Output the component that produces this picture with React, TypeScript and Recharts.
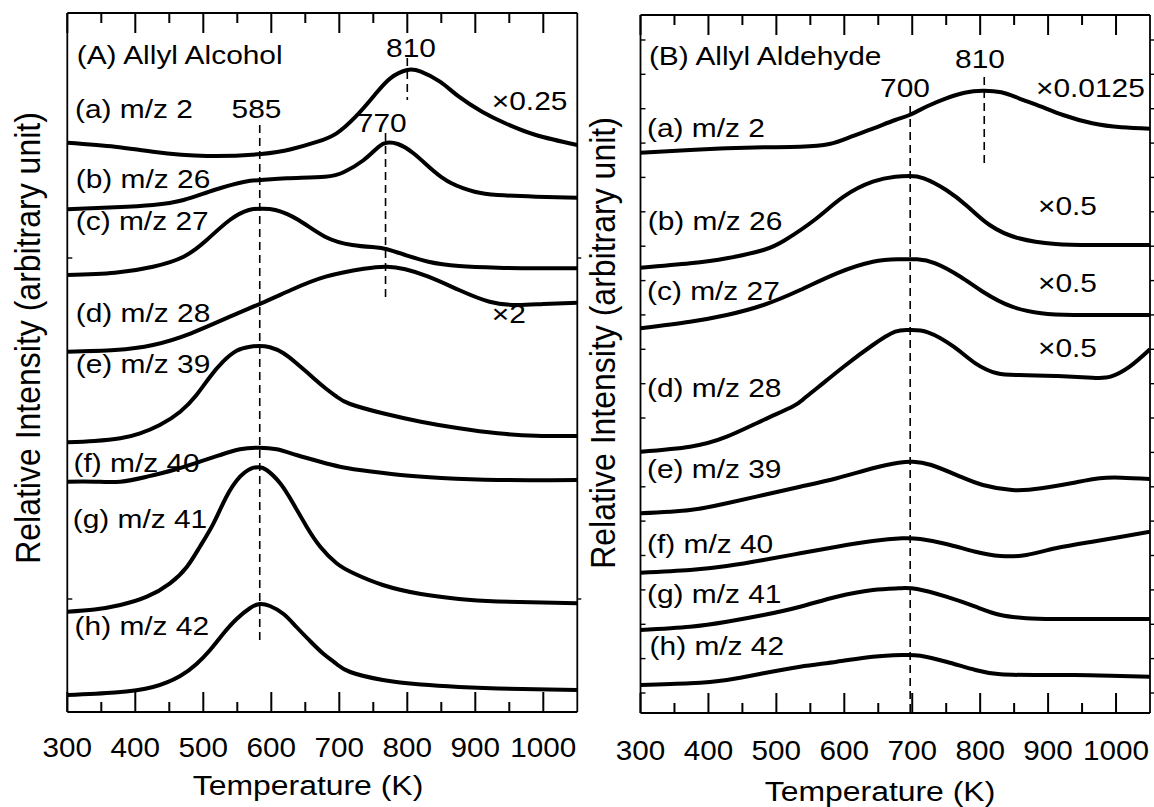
import React from 'react';
import { LineChart, Line, XAxis, YAxis, ReferenceLine } from 'recharts';

const FONT = '"Liberation Sans", Arial, Helvetica, sans-serif';

// ---------- axis ticks ----------
const tempTicks = [300, 350, 400, 450, 500, 550, 600, 650, 700, 750, 800, 850, 900, 950, 1000];
const yTicksA = [113, 454];
const yTicksB = [20, 54.4, 88.7, 123.1, 157.5, 191.9, 226.2, 260.6, 295, 329.3, 363.7, 398.1, 432.4, 466.8, 501.2, 535.6, 569.9, 604.3, 638.7, 673];

// ---------- Panel A : Allyl Alcohol ----------
const A_a_T = [300, 370, 426, 505, 585, 629, 668, 696, 724, 752, 775, 800, 820, 848, 876, 910, 944, 989, 1050];
const A_a_v = [569.3, 565.3, 560.3, 556, 558, 562.7, 570.3, 578.7, 595.3, 617, 633.7, 642, 640.3, 630.3, 615.3, 600.3, 588.7, 577, 567];
const A_b_T = [300, 370, 426, 471, 516, 561, 585, 623, 679, 707, 735, 758, 770, 786, 809, 837, 865, 899, 933, 989, 1050];
const A_b_v = [502.7, 504.7, 507, 512, 522, 530.3, 532, 533.7, 535.3, 540, 551.5, 565.3, 569.3, 568, 558.7, 542, 528.7, 520.3, 517, 515.3, 514.3];
const A_c_T = [300, 370, 426, 471, 505, 539, 567, 585, 606, 640, 679, 719, 752, 770, 797, 831, 876, 933, 989, 1050];
const A_c_v = [437, 439.3, 445.3, 455.3, 472, 492, 502, 503.3, 502, 492, 475.3, 467, 464.7, 462.7, 457, 450.3, 446, 444.3, 443.7, 443.7];
const A_d_T = [300, 370, 426, 482, 539, 585, 629, 680, 736, 770, 797, 831, 876, 921, 961, 1000, 1050];
const A_d_v = [360.3, 362, 367, 378.7, 395.3, 408.7, 422, 435.3, 443.3, 445.3, 442.7, 435.3, 422, 410.3, 407, 408, 409.3];
const A_e_T = [300, 340, 378, 407, 436, 466, 490, 510, 529, 549, 569, 582, 598, 618, 637, 657, 677, 696, 716, 764, 820, 876, 933, 989, 1050];
const A_e_v = [269.7, 271, 273.7, 278.7, 287, 300.3, 317, 335.3, 350.3, 361.3, 365.3, 366, 364.7, 358.7, 348.7, 337, 325.3, 315.3, 308, 298.7, 290.3, 283.7, 278.7, 276.3, 276];
const A_f_T = [300, 340, 378, 417, 456, 495, 525, 554, 582, 608, 637, 672, 701, 730, 790, 850, 933, 1050];
const A_f_v = [230.3, 230.3, 230.3, 235.3, 242, 250.3, 257, 262.7, 264.3, 262.7, 257, 250.3, 245.3, 242, 237, 234, 232, 232];
const A_g_T = [300, 340, 378, 417, 451, 476, 495, 515, 534, 554, 571, 582, 593, 613, 632, 652, 672, 696, 721, 764, 820, 876, 933, 1050];
const A_g_v = [100.3, 102.5, 107, 115.3, 128.7, 145.3, 165.3, 188.7, 215.3, 235.3, 243.7, 244.7, 242, 228.7, 208.7, 185.3, 165.3, 148.7, 138.7, 127, 118, 113, 110.5, 108.7];
const A_h_T = [300, 370, 426, 466, 490, 510, 529, 549, 569, 583, 598, 618, 637, 657, 677, 696, 716, 764, 820, 876, 933, 1050];
const A_h_v = [17, 19.5, 25, 36, 48, 62, 78, 93, 104, 108, 106, 98, 85, 71, 58, 48, 40, 32, 27.5, 25, 23.5, 22];

// ---------- Panel B : Allyl Aldehyde ----------
const B_a_T = [300, 373, 427, 481, 535, 578, 610, 643, 675, 696, 723, 750, 777, 804, 831, 857, 890, 922, 965, 1008, 1050];
const B_a_v = [560.3, 563, 564.7, 565.7, 566.3, 569, 576.3, 584.7, 593, 598, 607, 614.7, 620.3, 622.3, 620.7, 614.7, 606.3, 598, 589.7, 585.7, 584.3];
const B_b_T = [300, 373, 427, 481, 513, 556, 599, 642, 675, 696, 717, 750, 782, 814, 857, 911, 965, 1050];
const B_b_v = [445.3, 449.7, 454.7, 463, 473, 493, 516.3, 531.3, 536.3, 537, 534.7, 523, 506.3, 488, 474.7, 469, 468, 468];
const B_c_T = [300, 373, 427, 481, 535, 589, 642, 680, 707, 734, 771, 804, 847, 890, 938, 1050];
const B_c_v = [384.7, 391.3, 398, 408, 423, 439.7, 451.3, 453.7, 453.7, 449.7, 436.3, 421.3, 406.3, 399.7, 398, 398];
const B_d_T = [300, 373, 427, 481, 524, 540, 561, 599, 642, 675, 696, 723, 761, 793, 825, 857, 911, 965, 992, 1020, 1050];
const B_d_v = [261.3, 266.3, 276.3, 293, 306.5, 314, 325.5, 346.3, 368, 381.3, 383, 380.7, 366.3, 349.7, 339.7, 338, 337, 335.3, 336.3, 346.3, 363.7];
const B_e_T = [300, 373, 427, 481, 535, 589, 642, 680, 701, 728, 771, 804, 847, 890, 938, 976, 1008, 1050];
const B_e_v = [199.7, 203, 209.7, 218, 226.3, 234.7, 244.7, 250.3, 251.3, 248, 236.3, 228, 223, 224.7, 230.3, 234.7, 235.3, 234];
const B_f_T = [300, 373, 427, 481, 535, 589, 642, 685, 712, 750, 793, 830, 868, 911, 965, 1008, 1050];
const B_f_v = [140.3, 143, 147, 153, 159.7, 166.3, 172, 174.7, 174, 169, 161.3, 157, 158, 164.7, 171.3, 176.3, 181.3];
const B_g_T = [300, 373, 427, 481, 535, 589, 642, 680, 707, 750, 793, 830, 868, 911, 1050];
const B_g_v = [83, 86.3, 91.3, 98, 106.3, 116.3, 123, 124.7, 124, 116.3, 106.3, 98, 94.7, 94, 94];
const B_h_T = [300, 373, 427, 481, 535, 589, 642, 685, 712, 750, 793, 830, 884, 938, 992, 1050];
const B_h_v = [28, 29.7, 33, 39.7, 46.3, 51.3, 56.3, 58, 57.3, 51.3, 43, 38.7, 38, 38, 37.3, 36.3];

// dashed peak markers: [temperature, from, to]
const A_marks = [[583, 587, 67], [768, 579, 410], [800, 654, 612]];
const B_marks = [[697, 607, 0], [806, 636, 548]];

const zip = (t: number[], v: number[]) => t.map((T, i) => ({ T, v: v[i] }));
const seriesA = [zip(A_a_T, A_a_v), zip(A_b_T, A_b_v), zip(A_c_T, A_c_v), zip(A_d_T, A_d_v), zip(A_e_T, A_e_v), zip(A_f_T, A_f_v), zip(A_g_T, A_g_v), zip(A_h_T, A_h_v)];
const seriesB = [zip(B_a_T, B_a_v), zip(B_b_T, B_b_v), zip(B_c_T, B_c_v), zip(B_d_T, B_d_v), zip(B_e_T, B_e_v), zip(B_f_T, B_f_v), zip(B_g_T, B_g_v), zip(B_h_T, B_h_v)];

// ---------- layout of the two frames ----------
const T_MIN = 300;
const T_MAX = 1050;
const frameA = { chartLeft: 0, width: 600, margin: { top: 12, right: 21.7, bottom: 94, left: 66.3 } };
const frameB = { chartLeft: 580, width: 574, margin: { top: 14, right: 3, bottom: 93, left: 59.5 } };
// plot box implied by the chart size, margins and 1px axis bands
const plotBox = (f: any) => ({
  left: f.chartLeft + f.margin.left + 1,
  right: f.chartLeft + f.width - f.margin.right - 1,
  top: f.margin.top + 1,
  bottom: 807 - f.margin.bottom - 1,
});

// ---------- tick renderers ----------
const BottomLabel = (off: number) => (props: any) => {
  const x = Number(props.x);
  const y = Number(props.y);
  const v = props.payload.value;
  if (v % 100 !== 0) return <g />;
  return (
    <text transform={`translate(${x},${y + off}) scale(1.06,1)`} textAnchor="middle" fontSize={28} fontFamily={FONT} fill="#000">
      {v}
    </text>
  );
};
const LeftTick = (props: any) => {
  const { x, y } = props;
  return <line x1={x} x2={x + 5} y1={y} y2={y} stroke="#000" strokeWidth={1.4} />;
};
const RightTick = (props: any) => {
  const { x, y } = props;
  return <line x1={x} x2={x + 4} y1={y} y2={y} stroke="#000" strokeWidth={1.4} />;
};

const axisLine = { stroke: '#000', strokeWidth: 1.8 };

function Panel({ series, marks, yDomain, yTicks, frame, labelOff }: any) {
  return (
    <LineChart width={frame.width} height={807} margin={frame.margin}>
      <XAxis dataKey="T" type="number" domain={[T_MIN, T_MAX]} allowDataOverflow ticks={tempTicks} interval={0}
        height={1} tickSize={0} tickMargin={0} tickLine={false} axisLine={axisLine} tick={BottomLabel(labelOff)} />
      <XAxis xAxisId="top" orientation="top" dataKey="T" type="number" domain={[T_MIN, T_MAX]} allowDataOverflow ticks={tempTicks} interval={0}
        height={1} tickSize={0} tickMargin={0} tickLine={false} axisLine={axisLine} tick={false} />
      <YAxis type="number" domain={yDomain} allowDataOverflow ticks={yTicks} interval={0}
        width={1} tickSize={0} tickMargin={0} tickLine={false} axisLine={axisLine} tick={LeftTick} />
      <YAxis yAxisId="right" orientation="right" type="number" domain={yDomain} allowDataOverflow ticks={yTicks} interval={0}
        width={1} tickSize={0} tickMargin={0} tickLine={false} axisLine={axisLine} tick={RightTick} />
      {marks.map((m: number[], i: number) => (
        <ReferenceLine key={'m' + i} segment={[{ x: m[0], y: m[1] }, { x: m[0], y: m[2] }]} stroke="#000" strokeWidth={1.6} strokeDasharray="8 5" ifOverflow="visible" />
      ))}
      {series.map((d: any[], i: number) => (
        <Line key={i} data={d} dataKey="v" type="natural" stroke="#000" strokeWidth={4} dot={false} activeDot={false} isAnimationActive={false} />
      ))}
    </LineChart>
  );
}

// inward temperature tick marks on the top and bottom frame edges
function FrameTicks({ frame }: any) {
  const b = plotBox(frame);
  return (
    <g>
      {tempTicks.map((t) => {
        const x = b.left + ((t - T_MIN) / (T_MAX - T_MIN)) * (b.right - b.left);
        const len = t % 100 === 0 ? 20 : 10;
        return (
          <g key={t}>
            <line x1={x} x2={x} y1={b.bottom} y2={b.bottom - len} stroke="#000" strokeWidth={2} />
            <line x1={x} x2={x} y1={b.top} y2={b.top + len} stroke="#000" strokeWidth={2} />
          </g>
        );
      })}
    </g>
  );
}

// ---------- annotation text ----------
const labelsA: [string, number, number, string][] = [
  ['(A) Allyl Alcohol', 76.7, 64.3, 'start'],
  ['(a) m/z 2', 75, 118.3, 'start'],
  ['585', 256.5, 118.3, 'middle'],
  ['810', 411, 56.7, 'middle'],
  ['×0.25', 491.8, 110, 'start'],
  ['770', 381.7, 131.7, 'middle'],
  ['(b) m/z 26', 75.8, 188.3, 'start'],
  ['(c) m/z 27', 75.8, 230, 'start'],
  ['(d) m/z 28', 75.8, 321.7, 'start'],
  ['×2', 491.8, 323.3, 'start'],
  ['(e) m/z 39', 75.8, 373.3, 'start'],
  ['(f) m/z 40', 73.5, 471.7, 'start'],
  ['(g) m/z 41', 72.7, 528.3, 'start'],
  ['(h) m/z 42', 74.6, 635, 'start'],
];
const labelsB: [string, number, number, string][] = [
  ['(B) Allyl Aldehyde', 648.9, 65, 'start'],
  ['810', 980, 68.3, 'middle'],
  ['700', 905, 96.7, 'middle'],
  ['×0.0125', 1036, 96.7, 'start'],
  ['(a) m/z 2', 647, 136.7, 'start'],
  ['(b) m/z 26', 647.8, 230, 'start'],
  ['×0.5', 1038, 215, 'start'],
  ['(c) m/z 27', 647, 300, 'start'],
  ['×0.5', 1038, 291.7, 'start'],
  ['×0.5', 1038, 356.7, 'start'],
  ['(d) m/z 28', 647, 396.7, 'start'],
  ['(e) m/z 39', 647, 478.3, 'start'],
  ['(f) m/z 40', 647, 553.3, 'start'],
  ['(g) m/z 41', 647, 603.3, 'start'],
  ['(h) m/z 42', 649.6, 655, 'start'],
];

const xTitle = 'Temperature (K)';
const yTitle = 'Relative Intensity (arbitrary unit)';

const Txt = ({ x, y, anchor, size = 26, sx = 1.15, children }: any) => (
  <text transform={`translate(${x},${y}) scale(${sx},1)`} textAnchor={anchor} fontSize={size} fontFamily={FONT} fill="#000">
    {children}
  </text>
);

export default function App() {
  return (
    <div style={{ position: 'absolute', left: 0, top: 0, width: 1154, height: 807, background: '#fff' }}>
      <div style={{ position: 'absolute', left: frameA.chartLeft, top: 0 }}>
        <Panel series={seriesA} marks={A_marks} yDomain={[0, 699]} yTicks={yTicksA} frame={frameA} labelOff={45.3} />
      </div>
      <div style={{ position: 'absolute', left: frameB.chartLeft, top: 0 }}>
        <Panel series={seriesB} marks={B_marks} yDomain={[0, 698]} yTicks={yTicksB} frame={frameB} labelOff={47} />
      </div>
      <svg width={1154} height={807} style={{ position: 'absolute', left: 0, top: 0, pointerEvents: 'none' }}>
        <FrameTicks frame={frameA} />
        <FrameTicks frame={frameB} />
        {labelsA.concat(labelsB).map(([t, x, y, a], i) => (
          <Txt key={i} x={x} y={y} anchor={a}>{t}</Txt>
        ))}
        <Txt x={308} y={795} anchor="middle" size={28} sx={1.14}>{xTitle}</Txt>
        <Txt x={880} y={801} anchor="middle" size={28} sx={1.14}>{xTitle}</Txt>
        <text transform="translate(40,338) scale(1.12,1) rotate(-90)" textAnchor="middle" fontSize={32} fontFamily={FONT} fill="#000">{yTitle}</text>
        <text transform="translate(615,343) scale(1.12,1) rotate(-90)" textAnchor="middle" fontSize={32} fontFamily={FONT} fill="#000">{yTitle}</text>
      </svg>
    </div>
  );
}
